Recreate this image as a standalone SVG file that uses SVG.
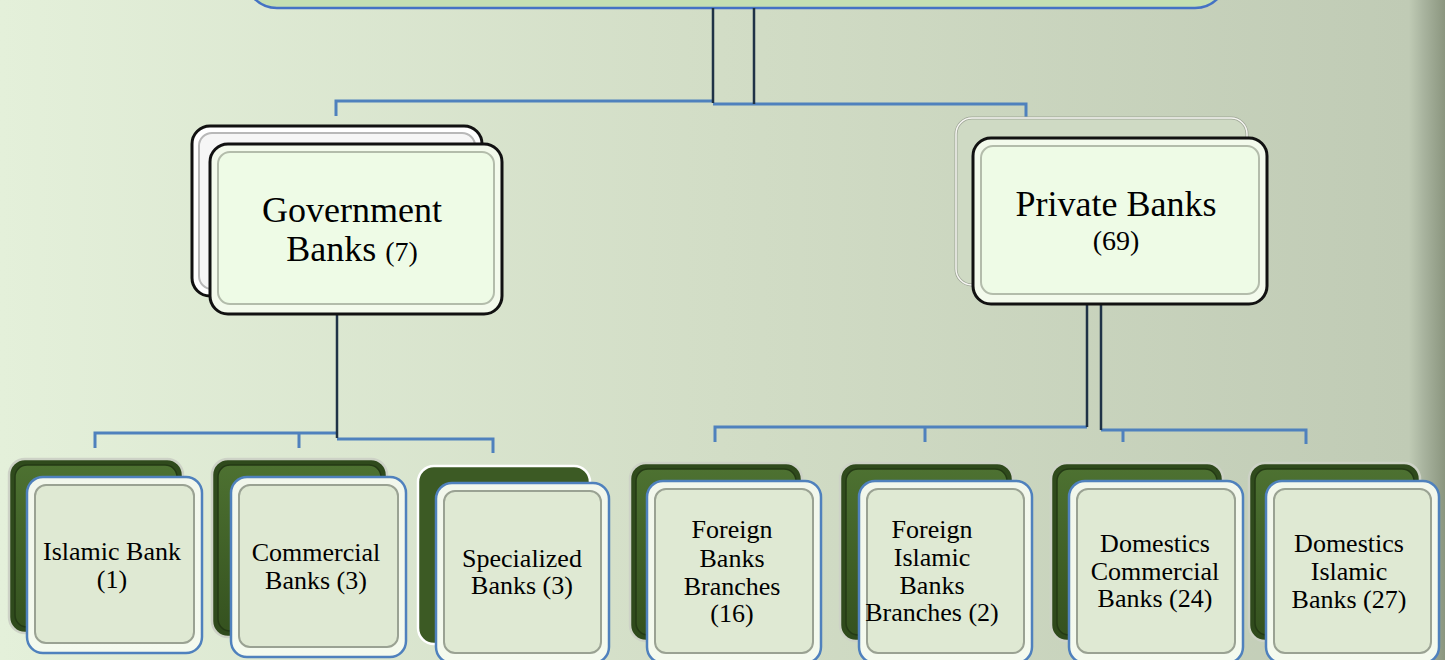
<svg xmlns="http://www.w3.org/2000/svg" width="1445" height="660" viewBox="0 0 1445 660">
<defs>
<linearGradient id="bg" x1="0" y1="0" x2="1" y2="0">
<stop offset="0" stop-color="#e4f0da"/>
<stop offset="0.5" stop-color="#d2ddc6"/>
<stop offset="0.975" stop-color="#c0cbb5"/>
<stop offset="0.985" stop-color="#a9b49f"/>
<stop offset="1" stop-color="#8b967f"/>
</linearGradient>
<linearGradient id="gGreen" x1="0" y1="0" x2="0" y2="1">
<stop offset="0" stop-color="#4d7131"/>
<stop offset="1" stop-color="#35521f"/>
</linearGradient>
<linearGradient id="gFrame" x1="0" y1="0" x2="0" y2="1">
<stop offset="0" stop-color="#f2f7ec"/>
<stop offset="1" stop-color="#f4faee"/>
</linearGradient>
<style>
text{font-family:'Liberation Serif','DejaVu Serif',serif;fill:#000;text-anchor:middle}
.big{font-size:36px}
.sm{font-size:28px}
.lbl{font-size:26px}
.conn{fill:none;stroke:#4f81bd;stroke-width:3}
.vline{fill:none;stroke:#1f3246;stroke-width:2.5}
.bkO{fill:#2f4a1c;stroke:#cdd2c6;stroke-width:2.5}
.bkI{fill:url(#gGreen);stroke:#243a15;stroke-width:1.5}
.frO{fill:url(#gFrame);stroke:#4f81bd;stroke-width:2.5}
.frI{fill:#dfe9d3;stroke:#9aa293;stroke-width:2}
.bigO{fill:#f3faec;stroke:#111;stroke-width:3}
.bigI{fill:#eefbe6;stroke:#b3bcab;stroke-width:2}
</style>
</defs>
<rect x="0" y="0" width="1445" height="660" fill="url(#bg)"/>

<g id="top">
<rect x="245" y="-60" width="982" height="68" rx="32" fill="#c5dfb3" stroke="#4472c4" stroke-width="2.5"/>
</g>

<g id="connectors">
<path class="conn" d="M713,101 H336 V116"/>
<path class="conn" d="M713,104 H1026 V118"/>
<path class="vline" d="M713,8 V103"/>
<path class="vline" d="M754,8 V104"/>
<path class="conn" d="M337,433 H95 V448"/>
<path class="conn" d="M299,433 V448"/>
<path class="conn" d="M337,439 H493 V453"/>
<path class="vline" d="M337,313 V438"/>
<path class="conn" d="M1087,427 H715 V442"/>
<path class="conn" d="M925,427 V442"/>
<path class="conn" d="M1101,430 H1306 V444"/>
<path class="conn" d="M1123,430 V442"/>
<path class="vline" d="M1087,304 V427"/>
<path class="vline" d="M1101,304 V430"/>
</g>

<g id="gov">
<rect x="192" y="126" width="290" height="170" rx="18" fill="#ffffff" stroke="#111" stroke-width="3"/>
<rect x="199" y="133" width="276" height="156" rx="13" fill="#f6f6f6" stroke="#b8b8b8" stroke-width="2"/>
<rect class="bigO" x="210" y="144" width="292" height="170" rx="18"/>
<rect class="bigI" x="218" y="152" width="276" height="152" rx="12"/>
<text class="big" x="352" y="222">Government</text>
<text class="big" x="352" y="261">Banks <tspan class="sm">(7)</tspan></text>
</g>

<g id="private">
<rect x="956" y="118" width="291" height="167" rx="16" fill="#cfdac4" stroke="#9ea596" stroke-width="3"/>
<rect x="956" y="118" width="291" height="167" rx="16" fill="none" stroke="#f6f6f2" stroke-width="1.5"/>
<rect class="bigO" x="973" y="138" width="294" height="166" rx="18"/>
<rect class="bigI" x="981" y="146" width="278" height="148" rx="12"/>
<text class="big" x="1116" y="216">Private Banks</text>
<text class="sm" x="1116" y="250">(69)</text>
</g>

<g id="islamic">
<rect class="bkO" x="9" y="459" width="174" height="174" rx="16"/>
<rect class="bkI" x="15" y="465" width="162" height="162" rx="12"/>
<rect class="frO" x="27" y="477" width="175" height="176" rx="16"/>
<rect class="frI" x="35" y="485" width="159" height="158" rx="11"/>
<text class="lbl" x="112" y="560">Islamic Bank</text>
<text class="lbl" x="112" y="588">(1)</text>
</g>

<g id="commercial">
<rect class="bkO" x="212" y="459" width="175" height="178" rx="16"/>
<rect class="bkI" x="218" y="465" width="163" height="166" rx="12"/>
<rect class="frO" x="231" y="477" width="175" height="180" rx="16"/>
<rect class="frI" x="239" y="485" width="159" height="162" rx="11"/>
<text class="lbl" x="316" y="561">Commercial</text>
<text class="lbl" x="316" y="589">Banks (3)</text>
</g>

<g id="specialized">
<rect x="418" y="466" width="172" height="178" rx="16" fill="#3c5a24" stroke="#ffffff" stroke-width="2.5"/>
<rect class="frO" x="436" y="483" width="173" height="180" rx="16"/>
<rect class="frI" x="444" y="491" width="157" height="162" rx="11"/>
<text class="lbl" x="522" y="567">Specialized</text>
<text class="lbl" x="522" y="594">Banks (3)</text>
</g>

<g id="foreign">
<rect class="bkO" x="630" y="463" width="172" height="178" rx="16"/>
<rect class="bkI" x="636" y="469" width="160" height="166" rx="12"/>
<rect class="frO" x="647" y="481" width="174" height="182" rx="16"/>
<rect class="frI" x="655" y="489" width="158" height="164" rx="11"/>
<text class="lbl" x="732" y="538">Foreign</text>
<text class="lbl" x="732" y="567">Banks</text>
<text class="lbl" x="732" y="595">Branches</text>
<text class="lbl" x="732" y="622">(16)</text>
</g>

<g id="foreignIslamic">
<rect class="bkO" x="840" y="463" width="173" height="178" rx="16"/>
<rect class="bkI" x="846" y="469" width="161" height="166" rx="12"/>
<rect class="frO" x="859" y="481" width="173" height="182" rx="16"/>
<rect class="frI" x="867" y="489" width="157" height="164" rx="11"/>
<text class="lbl" x="932" y="538">Foreign</text>
<text class="lbl" x="932" y="566">Islamic</text>
<text class="lbl" x="932" y="594">Banks</text>
<text class="lbl" x="932" y="621">Branches (2)</text>
</g>

<g id="domCommercial">
<rect class="bkO" x="1051" y="463" width="172" height="178" rx="16"/>
<rect class="bkI" x="1057" y="469" width="160" height="166" rx="12"/>
<rect class="frO" x="1069" y="481" width="174" height="182" rx="16"/>
<rect class="frI" x="1077" y="489" width="158" height="164" rx="11"/>
<text class="lbl" x="1155" y="552">Domestics</text>
<text class="lbl" x="1155" y="580">Commercial</text>
<text class="lbl" x="1155" y="607">Banks (24)</text>
</g>

<g id="domIslamic">
<rect class="bkO" x="1249" y="463" width="171" height="178" rx="16"/>
<rect class="bkI" x="1255" y="469" width="159" height="166" rx="12"/>
<rect class="frO" x="1266" y="481" width="173" height="182" rx="16"/>
<rect class="frI" x="1274" y="489" width="157" height="164" rx="11"/>
<text class="lbl" x="1349" y="552">Domestics</text>
<text class="lbl" x="1349" y="580">Islamic</text>
<text class="lbl" x="1349" y="608">Banks (27)</text>
</g>
</svg>
